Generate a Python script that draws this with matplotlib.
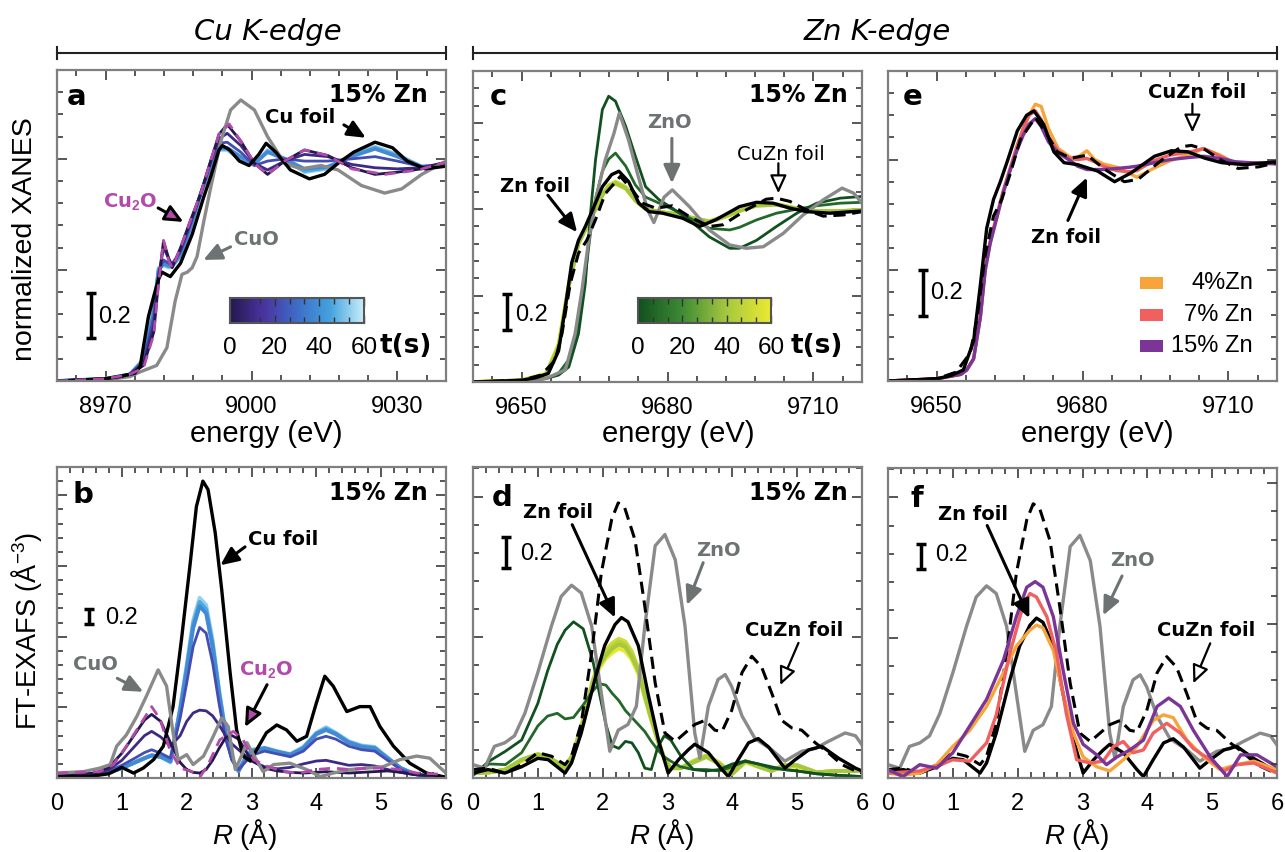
import numpy as np
import matplotlib
matplotlib.use('Agg')
import matplotlib.pyplot as plt
from matplotlib.colors import LinearSegmentedColormap
from matplotlib.lines import Line2D
from matplotlib.patches import Rectangle

plt.rcParams['font.family'] = ['Liberation Sans', 'DejaVu Sans']
plt.rcParams['mathtext.fontset'] = 'custom'
plt.rcParams['mathtext.rm'] = 'Liberation Sans'
plt.rcParams['mathtext.it'] = 'Liberation Sans:italic'
plt.rcParams['mathtext.bf'] = 'Liberation Sans:bold'
plt.rcParams['lines.solid_joinstyle'] = 'round'
plt.rcParams['lines.dash_joinstyle'] = 'round'
ANN = 'DejaVu Sans'

# ---------------- DATA ----------------
# Panel a: Cu K-edge XANES (energy eV, normalized)
cu_E_foil = [8960, 8965, 8970, 8973, 8976, 8977.1, 8978.8, 8980, 8980.9, 8981.6, 8983.3, 8985.4, 8987.8, 8990.2,
             8991.6, 8993.3, 8994, 8995.5, 8997.5, 8999.5, 9001.5, 9003, 9005, 9008, 9011.9, 9015, 9017.8, 9021,
             9025.4, 9029, 9032, 9035.7, 9040]
cu_xanes_foil = [0.0, 0.005, 0.01, 0.02, 0.035, 0.065, 0.29, 0.39, 0.46, 0.49, 0.47, 0.53, 0.66, 0.83, 0.92, 1.04,
                 1.06, 1.04, 0.99, 0.97, 1.02, 1.07, 1.03, 0.95, 0.91, 0.93, 0.98, 1.03, 1.075, 1.05, 0.99, 0.955, 0.967]
cu_E_cuo = [8960, 8970, 8975, 8977, 8980.5, 8982.6, 8984.3, 8985.7, 8986.8, 8987.8, 8988.8, 8990.2, 8991.6, 8993.7,
            8995.7, 8997.8, 9000.6, 9003.3, 9006.8, 9010.2, 9014.3, 9017.8, 9022.6, 9027.4, 9030.9, 9035, 9040]
cu_xanes_cuo = [0.0, 0.005, 0.02, 0.04, 0.07, 0.15, 0.36, 0.48, 0.49, 0.51, 0.56, 0.72, 0.87, 1.08, 1.22, 1.265,
                1.22, 1.10, 0.98, 0.955, 0.97, 0.95, 0.88, 0.846, 0.865, 0.93, 0.99]
cu_E_cu2o = [8960, 8970, 8975, 8977.8, 8979.9, 8980.9, 8981.9, 8983, 8983.7, 8985.4, 8987.4, 8989.5, 8991.6, 8993.3,
             8995.4, 8997.8, 9000.6, 9003.3, 9006.8, 9010.9, 9015.7, 9020.6, 9027.4, 9034.3, 9040]
cu_xanes_cu2o = [0.0, 0.01, 0.03, 0.06, 0.21, 0.44, 0.633, 0.54, 0.51, 0.60, 0.72, 0.84, 0.99, 1.11, 1.157, 1.08,
                 0.98, 0.93, 0.99, 1.04, 1.015, 0.955, 0.93, 0.95, 0.985]
cu_times = [0, 10, 22, 38, 46, 54]
cu_E_series = [8960, 8970, 8975, 8977.8, 8979.9, 8980.9, 8981.9, 8983, 8983.7, 8985.4, 8987.4, 8989.5, 8991.6, 8993.3,
               8995, 8997.8, 9000.6, 9003.3, 9006.8, 9010.9, 9015.7, 9020.6, 9025.4, 9030, 9035, 9040]
cu_xanes_t0 = [0.0, 0.01, 0.03, 0.07, 0.22, 0.45, 0.63, 0.55, 0.51, 0.60, 0.72, 0.84, 0.99, 1.11, 1.155, 1.08, 0.98,
               0.93, 0.99, 1.04, 1.015, 0.96, 0.93, 0.94, 0.955, 0.985]
cu_xanes_t1 = [0.0, 0.01, 0.03, 0.08, 0.25, 0.47, 0.60, 0.55, 0.52, 0.59, 0.71, 0.84, 0.99, 1.09, 1.115, 1.06, 0.98,
               0.95, 0.99, 1.02, 1.01, 0.975, 0.96, 0.955, 0.96, 0.985]
cu_xanes_t2 = [0.0, 0.01, 0.03, 0.09, 0.29, 0.49, 0.545, 0.53, 0.53, 0.58, 0.70, 0.84, 0.98, 1.07, 1.075, 1.03, 0.97,
               0.99, 1.0, 0.99, 0.99, 1.0, 1.01, 0.99, 0.965, 0.975]
cu_xanes_t3 = [0.0, 0.01, 0.03, 0.09, 0.31, 0.50, 0.53, 0.52, 0.52, 0.57, 0.69, 0.84, 0.97, 1.05, 1.05, 1.01, 0.98,
               1.03, 1.0, 0.955, 0.965, 1.01, 1.045, 1.01, 0.965, 0.97]
cu_xanes_t4 = [0.0, 0.01, 0.03, 0.095, 0.32, 0.50, 0.525, 0.515, 0.52, 0.565, 0.685, 0.84, 0.97, 1.045, 1.045, 1.0,
               0.975, 1.035, 1.0, 0.945, 0.96, 1.015, 1.05, 1.015, 0.965, 0.97]
cu_xanes_t5 = [0.0, 0.01, 0.03, 0.10, 0.33, 0.51, 0.52, 0.51, 0.515, 0.56, 0.68, 0.84, 0.965, 1.04, 1.04, 0.995, 0.97,
               1.04, 1.0, 0.94, 0.955, 1.02, 1.055, 1.02, 0.965, 0.97]

# Panel b: Cu FT-EXAFS (R in Angstrom)
cu_R_foil = [0, 0.5, 0.8, 1.0, 1.18, 1.33, 1.49, 1.64, 1.79, 1.92, 2.05, 2.15, 2.25, 2.33, 2.44, 2.54, 2.67, 2.77,
             2.87, 2.98, 3.08, 3.23, 3.39, 3.54, 3.70, 3.85, 4.0, 4.13, 4.26, 4.47, 4.67, 4.83, 4.98, 5.19, 5.44,
             5.70, 6.0]
cu_ft_foil = [0.02, 0.02, 0.06, 0.15, 0.07, 0.14, 0.26, 0.45, 1.01, 1.96, 3.0, 3.84, 4.2, 4.08, 3.47, 2.67, 1.49,
              0.68, 0.31, 0.24, 0.40, 0.64, 0.75, 0.68, 0.52, 0.59, 1.06, 1.44, 1.30, 0.94, 1.01, 1.01, 0.73, 0.45,
              0.21, 0.07, 0.01]
cu_R_cuo = [0, 0.41, 0.66, 0.82, 0.92, 1.07, 1.23, 1.38, 1.56, 1.69, 1.79, 1.87, 2.0, 2.1, 2.26, 2.41, 2.54, 2.64,
            2.75, 2.82, 2.93, 3.03, 3.18, 3.34, 3.59, 3.85, 4.06, 4.26, 4.52, 4.78, 5.03, 5.29, 5.55, 5.75, 6.0]
cu_ft_cuo = [0.07, 0.09, 0.14, 0.19, 0.45, 0.61, 0.87, 1.16, 1.53, 1.30, 0.64, 0.26, 0.33, 0.19, 0.31, 0.59, 0.85,
             0.73, 0.12, 0.26, 0.50, 0.33, 0.09, 0.19, 0.21, 0.12, 0.02, 0.07, 0.12, 0.14, 0.16, 0.26, 0.31, 0.28, 0.07]
cu_R_cu2o = [0, 0.66, 0.87, 1.07, 1.23, 1.46, 1.59, 1.74, 1.90, 2.08, 2.21, 2.33, 2.51, 2.72, 2.87, 3.03, 3.23, 3.49,
             3.75, 4.0, 4.26, 4.52, 4.78, 5.03, 5.29, 5.55, 6.0]
cu_ft_cu2o = [0.07, 0.09, 0.19, 0.45, 0.68, 1.01, 0.83, 0.40, 0.14, 0.09, 0.02, 0.19, 0.54, 0.66, 0.54, 0.26, 0.17,
              0.09, 0.07, 0.12, 0.14, 0.12, 0.14, 0.14, 0.12, 0.07, 0.05]
cu_R_series = [0, 0.3, 0.6, 0.8, 1.0, 1.2, 1.35, 1.46, 1.6, 1.75, 1.9, 2.0, 2.1, 2.2, 2.3, 2.4, 2.5, 2.6, 2.7, 2.8,
               2.9, 3.0, 3.2, 3.4, 3.6, 3.8, 4.0, 4.15, 4.3, 4.5, 4.7, 4.9, 5.1, 5.3, 5.5, 5.75, 6.0]
cu_ft_t0 = [0.05, 0.05, 0.07, 0.15, 0.35, 0.62, 0.82, 0.90, 0.80, 0.50, 0.22, 0.12, 0.08, 0.07, 0.12, 0.25, 0.42, 0.57,
            0.60, 0.55, 0.40, 0.25, 0.14, 0.10, 0.08, 0.07, 0.08, 0.09, 0.08, 0.07, 0.08, 0.09, 0.10, 0.08, 0.05, 0.03,
            0.02]
cu_ft_t1 = [0.05, 0.05, 0.07, 0.12, 0.25, 0.45, 0.60, 0.66, 0.58, 0.45, 0.60, 0.80, 0.92, 0.96, 0.95, 0.88, 0.75, 0.60,
            0.48, 0.40, 0.32, 0.24, 0.16, 0.13, 0.15, 0.20, 0.24, 0.25, 0.22, 0.18, 0.19, 0.17, 0.12, 0.08, 0.05, 0.03,
            0.02]
cu_ft_t2 = [0.04, 0.04, 0.06, 0.10, 0.18, 0.28, 0.36, 0.40, 0.35, 0.28, 0.85, 1.34, 1.86, 2.13, 2.05, 1.63, 1.05, 0.55,
            0.25, 0.12, 0.22, 0.32, 0.38, 0.34, 0.30, 0.38, 0.55, 0.59, 0.55, 0.45, 0.40, 0.38, 0.25, 0.12, 0.05, 0.03,
            0.02]
cu_ft_t3 = [0.03, 0.03, 0.05, 0.08, 0.14, 0.22, 0.28, 0.32, 0.30, 0.24, 0.95, 1.52, 2.12, 2.43, 2.33, 1.86, 1.19, 0.62,
            0.27, 0.10, 0.26, 0.38, 0.42, 0.37, 0.33, 0.42, 0.62, 0.68, 0.62, 0.50, 0.44, 0.42, 0.28, 0.14, 0.06, 0.02,
            0.01]
cu_ft_t4 = [0.03, 0.03, 0.05, 0.08, 0.14, 0.22, 0.28, 0.32, 0.30, 0.23, 0.98, 1.56, 2.18, 2.49, 2.39, 1.90, 1.22, 0.64,
            0.27, 0.10, 0.27, 0.39, 0.42, 0.37, 0.33, 0.43, 0.63, 0.70, 0.63, 0.51, 0.45, 0.43, 0.28, 0.14, 0.06, 0.02,
            0.01]
cu_ft_t5 = [0.03, 0.03, 0.05, 0.08, 0.14, 0.22, 0.28, 0.32, 0.30, 0.22, 1.00, 1.60, 2.23, 2.55, 2.45, 1.95, 1.25, 0.65,
            0.28, 0.10, 0.28, 0.40, 0.43, 0.38, 0.34, 0.44, 0.64, 0.72, 0.64, 0.52, 0.46, 0.44, 0.29, 0.14, 0.06, 0.02,
            0.01]

# Panel c / e: Zn K-edge XANES references
zn_E_foil = [9640, 9650, 9653, 9655.5, 9657.6, 9659, 9660.3, 9661.7, 9663.1, 9664.5, 9666.6, 9668.5, 9670, 9672,
             9674.1, 9676.2, 9679, 9683.1, 9686.6, 9690, 9694.8, 9698.3, 9701.7, 9705.2, 9708.6, 9713.4, 9720]
zn_xanes_foil = [0.0, 0.01, 0.025, 0.05, 0.18, 0.435, 0.69, 0.82, 0.90, 0.99, 1.13, 1.20, 1.22, 1.16, 1.035, 0.986,
                 0.977, 0.948, 0.90, 0.94, 1.015, 1.04, 1.035, 1.006, 0.986, 0.977, 0.99]
zn_E_cuzn = [9640, 9650, 9654, 9656.9, 9658.3, 9660, 9661.7, 9663.4, 9665.2, 9667.2, 9670.3, 9672.8, 9674.8, 9677.6,
             9681, 9684.5, 9688.6, 9691.4, 9696.2, 9700.3, 9702.4, 9705.2, 9708.6, 9712, 9716.2, 9720]
zn_xanes_cuzn = [0.0, 0.01, 0.04, 0.126, 0.28, 0.57, 0.745, 0.82, 0.94, 1.09, 1.19, 1.11, 1.035, 1.006, 1.02, 0.957,
                 0.90, 0.91, 0.996, 1.058, 1.064, 1.045, 0.996, 0.96, 0.967, 0.986]
zn_E_zno = [9640, 9650, 9655, 9659, 9661, 9662.4, 9663.8, 9665.2, 9667.2, 9669, 9670.1, 9672, 9673.8, 9675.9, 9677.2,
            9679.3, 9681, 9684.5, 9688.6, 9692.8, 9696.2, 9699.7, 9703.8, 9707.9, 9712, 9715.9, 9718.3, 9720]
zn_xanes_zno = [0.0, 0.005, 0.02, 0.07, 0.28, 0.53, 0.82, 1.054, 1.286, 1.44, 1.557, 1.40, 1.209, 0.996, 0.923, 1.07,
                1.112, 1.015, 0.88, 0.793, 0.774, 0.783, 0.86, 0.967, 1.054, 1.122, 1.093, 1.035]
zn_times = [0, 8, 40, 46, 52, 58]
zn_E_series = [9640, 9650, 9655, 9657.6, 9659.7, 9661.7, 9663.1, 9664.1, 9665.2, 9666.6, 9667.9, 9669.3, 9671.4,
               9673.4, 9675.5, 9678.3, 9681, 9684.5, 9688.6, 9692.8, 9694.8, 9698.3, 9702.4, 9706.6, 9710.7, 9715.5,
               9720]
zn_xanes_t0 = [0.0, 0.005, 0.02, 0.04, 0.087, 0.28, 0.57, 0.957, 1.286, 1.576, 1.654, 1.625, 1.48, 1.306, 1.13, 1.054,
               1.006, 0.938, 0.84, 0.774, 0.774, 0.82, 0.90, 0.977, 1.035, 1.064, 1.074]
zn_xanes_t1 = [0.0, 0.005, 0.02, 0.05, 0.13, 0.33, 0.62, 0.85, 1.06, 1.22, 1.29, 1.325, 1.25, 1.14, 1.07, 1.035, 1.0,
               0.95, 0.89, 0.88, 0.895, 0.938, 0.977, 1.0, 1.02, 1.035, 1.04]
zn_xanes_t2 = [0.0, 0.01, 0.04, 0.20, 0.55, 0.80, 0.88, 0.94, 1.0, 1.08, 1.13, 1.15, 1.12, 1.05, 1.0, 0.985, 0.975,
               0.955, 0.93, 0.97, 0.99, 1.02, 1.025, 1.005, 0.99, 0.99, 0.995]
zn_xanes_t3 = [0.0, 0.01, 0.045, 0.21, 0.56, 0.80, 0.88, 0.94, 1.0, 1.08, 1.135, 1.155, 1.125, 1.05, 1.0, 0.985, 0.975,
               0.95, 0.925, 0.965, 0.99, 1.025, 1.03, 1.005, 0.99, 0.99, 0.995]
zn_xanes_t4 = [0.0, 0.01, 0.045, 0.21, 0.56, 0.81, 0.89, 0.945, 1.005, 1.085, 1.14, 1.16, 1.13, 1.055, 1.0, 0.985,
               0.975, 0.95, 0.925, 0.965, 0.99, 1.025, 1.03, 1.005, 0.99, 0.99, 0.995]
zn_xanes_t5 = [0.0, 0.01, 0.05, 0.22, 0.57, 0.81, 0.89, 0.945, 1.0, 1.08, 1.13, 1.145, 1.12, 1.05, 1.0, 0.985, 0.975,
               0.955, 0.93, 0.97, 0.99, 1.02, 1.025, 1.005, 0.99, 0.99, 0.995]

# Panel e: composition series
comp_labels = ['4%Zn', '7% Zn', '15% Zn']
comp_E = [9640, 9650, 9655, 9656.2, 9657.6, 9659, 9660, 9661, 9662.4, 9663.7, 9665.1, 9666.5, 9667.8, 9669, 9670.3,
          9671.5, 9673, 9675, 9677.5, 9679, 9680.9, 9682.5, 9684.3, 9687.1, 9689.5, 9691.2, 9694.6, 9698, 9702.2,
          9704.9, 9708.3, 9711.5, 9715, 9720]
xanes_4 = [0.0, 0.01, 0.03, 0.05, 0.10, 0.29, 0.50, 0.62, 0.74, 0.85, 0.95, 1.05, 1.14, 1.20, 1.25, 1.24, 1.14, 1.05,
           1.01, 1.01, 1.04, 1.0, 0.98, 0.965, 0.94, 0.92, 0.96, 0.995, 1.025, 1.05, 1.02, 0.98, 0.985, 0.985]
xanes_7 = [0.0, 0.01, 0.03, 0.05, 0.10, 0.29, 0.52, 0.63, 0.75, 0.86, 0.96, 1.06, 1.14, 1.20, 1.22, 1.18, 1.10, 1.04,
           1.005, 1.0, 1.005, 0.99, 0.97, 0.95, 0.945, 0.95, 0.995, 1.02, 1.035, 1.05, 1.015, 0.985, 0.985, 0.985]
xanes_15 = [0.0, 0.01, 0.03, 0.05, 0.10, 0.29, 0.50, 0.62, 0.74, 0.85, 0.95, 1.04, 1.11, 1.16, 1.185, 1.15, 1.08, 1.03,
            0.995, 0.97, 0.955, 0.955, 0.955, 0.96, 0.965, 0.97, 0.985, 1.0, 1.01, 1.015, 1.005, 0.99, 0.985, 0.98]

# Panel d / f: Zn FT-EXAFS references
zn_R_foil = [0, 0.23, 0.49, 0.75, 1.0, 1.16, 1.42, 1.52, 1.67, 1.88, 2.03, 2.19, 2.29, 2.39, 2.55, 2.70, 2.86, 3.01,
             3.17, 3.32, 3.42, 3.63, 3.84, 3.94, 4.09, 4.25, 4.40, 4.56, 4.81, 4.97, 5.18, 5.38, 5.64, 5.90, 6.0]
zn_ft_foil = [0.035, 0.06, 0.035, 0.08, 0.14, 0.13, 0.035, 0.107, 0.32, 0.70, 0.94, 1.09, 1.14, 1.11, 0.94, 0.60,
              0.27, 0.035, 0.13, 0.20, 0.24, 0.18, 0.06, 0.01, 0.13, 0.25, 0.28, 0.22, 0.07, 0.13, 0.20, 0.225, 0.14,
              0.07, 0.05]
zn_R_cuzn = [0, 0.23, 0.49, 0.75, 1.0, 1.21, 1.42, 1.52, 1.67, 1.83, 1.98, 2.14, 2.24, 2.34, 2.50, 2.65, 2.81, 2.96,
             3.12, 3.27, 3.42, 3.58, 3.73, 3.84, 3.99, 4.15, 4.30, 4.45, 4.61, 4.76, 4.92, 5.07, 5.28, 5.48, 5.69,
             5.90, 6.0]
zn_ft_cuzn = [0.06, 0.07, 0.035, 0.095, 0.18, 0.155, 0.095, 0.155, 0.39, 0.89, 1.46, 1.84, 1.955, 1.92, 1.69, 1.22,
              0.675, 0.32, 0.26, 0.32, 0.38, 0.41, 0.34, 0.33, 0.48, 0.75, 0.865, 0.79, 0.60, 0.41, 0.355, 0.34, 0.25,
              0.18, 0.095, 0.05, 0.035]
zn_R_zno = [0, 0.18, 0.33, 0.49, 0.64, 0.80, 1.0, 1.21, 1.36, 1.52, 1.67, 1.83, 1.98, 2.11, 2.24, 2.39, 2.52, 2.65,
            2.81, 2.96, 3.12, 3.27, 3.42, 3.50, 3.63, 3.78, 3.89, 3.99, 4.15, 4.35, 4.61, 4.81, 5.07, 5.28, 5.48, 5.74,
            5.90, 6.0]
zn_ft_zno = [0.095, 0.07, 0.225, 0.25, 0.30, 0.46, 0.75, 1.08, 1.29, 1.37, 1.315, 1.08, 0.60, 0.19, 0.34, 0.38, 0.51,
             1.08, 1.65, 1.73, 1.55, 1.08, 0.32, 0.14, 0.51, 0.70, 0.735, 0.65, 0.44, 0.28, 0.20, 0.12, 0.19, 0.21,
             0.26, 0.32, 0.30, 0.235]
zn_R_series = [0, 0.25, 0.5, 0.75, 1.0, 1.15, 1.3, 1.42, 1.55, 1.7, 1.85, 1.95, 2.05, 2.15, 2.25, 2.35, 2.45, 2.55,
               2.65, 2.75, 2.85, 2.95, 3.05, 3.2, 3.4, 3.6, 3.8, 4.0, 4.2, 4.4, 4.6, 4.8, 5.0, 5.3, 5.6, 6.0]
zn_ft_t0 = [0.02, 0.12, 0.19, 0.27, 0.53, 0.76, 0.95, 1.05, 1.11, 1.06, 0.83, 0.60, 0.38, 0.23, 0.21, 0.26, 0.25, 0.18,
            0.07, 0.06, 0.22, 0.30, 0.27, 0.16, 0.06, 0.05, 0.06, 0.10, 0.12, 0.10, 0.08, 0.06, 0.05, 0.03, 0.02, 0.01]
zn_ft_t1 = [0.02, 0.10, 0.095, 0.18, 0.37, 0.44, 0.46, 0.42, 0.43, 0.52, 0.62, 0.67, 0.66, 0.60, 0.55, 0.48, 0.43,
            0.38, 0.33, 0.26, 0.20, 0.15, 0.12, 0.08, 0.06, 0.06, 0.05, 0.08, 0.12, 0.10, 0.07, 0.06, 0.05, 0.03, 0.02,
            0.01]
zn_ft_t2 = [0.035, 0.04, 0.06, 0.13, 0.165, 0.15, 0.11, 0.07, 0.17, 0.40, 0.68, 0.80, 0.87, 0.92, 0.95, 0.93, 0.86,
            0.76, 0.58, 0.42, 0.27, 0.14, 0.07, 0.07, 0.11, 0.15, 0.10, 0.03, 0.12, 0.08, 0.05, 0.09, 0.09, 0.04, 0.05,
            0.05]
zn_ft_t3 = [0.035, 0.04, 0.06, 0.13, 0.17, 0.15, 0.11, 0.07, 0.18, 0.41, 0.69, 0.82, 0.89, 0.94, 0.97, 0.95, 0.88,
            0.77, 0.59, 0.42, 0.27, 0.14, 0.07, 0.07, 0.12, 0.16, 0.10, 0.03, 0.12, 0.09, 0.05, 0.09, 0.09, 0.04, 0.05,
            0.05]
zn_ft_t4 = [0.035, 0.04, 0.06, 0.13, 0.17, 0.15, 0.11, 0.07, 0.18, 0.42, 0.70, 0.83, 0.91, 0.96, 0.99, 0.97, 0.90,
            0.78, 0.60, 0.43, 0.28, 0.14, 0.07, 0.07, 0.12, 0.16, 0.11, 0.03, 0.12, 0.09, 0.05, 0.09, 0.09, 0.04, 0.05,
            0.05]
zn_ft_t5 = [0.035, 0.04, 0.06, 0.12, 0.16, 0.14, 0.10, 0.07, 0.16, 0.39, 0.66, 0.78, 0.85, 0.89, 0.92, 0.90, 0.84,
            0.74, 0.57, 0.41, 0.26, 0.13, 0.07, 0.07, 0.11, 0.15, 0.10, 0.03, 0.11, 0.08, 0.05, 0.08, 0.08, 0.04, 0.05,
            0.05]

# Panel f: composition series
ft4_R = [0, 0.23, 0.49, 0.75, 1.0, 1.26, 1.52, 1.78, 1.98, 2.19, 2.29, 2.39, 2.55, 2.70, 2.86, 3.01, 3.22, 3.42, 3.63,
         3.84, 4.09, 4.25, 4.40, 4.61, 4.87, 5.12, 5.38, 5.64, 6.0]
ft4 = [0.035, 0.02, 0.035, 0.095, 0.225, 0.34, 0.51, 0.75, 0.94, 1.055, 1.09, 1.07, 0.91, 0.60, 0.32, 0.15, 0.08,
       0.05, 0.13, 0.225, 0.41, 0.45, 0.43, 0.27, 0.15, 0.06, 0.095, 0.12, 0.06]
ft7_R = [0, 0.49, 0.75, 1.0, 1.26, 1.52, 1.67, 1.88, 2.09, 2.19, 2.29, 2.45, 2.60, 2.75, 2.91, 3.12, 3.32, 3.48, 3.63,
         3.78, 3.94, 4.09, 4.30, 4.51, 4.71, 4.97, 5.18, 5.38, 5.64, 6.0]
ft7 = [0.035, 0.05, 0.085, 0.13, 0.12, 0.25, 0.45, 0.89, 1.24, 1.315, 1.29, 1.15, 0.89, 0.46, 0.13, 0.107, 0.12,
       0.225, 0.26, 0.18, 0.20, 0.32, 0.39, 0.32, 0.21, 0.13, 0.05, 0.095, 0.107, 0.035]
ft15_R = [0, 0.23, 0.49, 0.75, 1.0, 1.26, 1.52, 1.78, 1.98, 2.14, 2.27, 2.39, 2.55, 2.70, 2.86, 3.01, 3.22, 3.37,
          3.53, 3.73, 3.94, 4.15, 4.33, 4.51, 4.71, 4.97, 5.23, 5.44, 5.69, 6.0]
ft15 = [0.06, 0.01, 0.095, 0.07, 0.18, 0.37, 0.56, 0.84, 1.15, 1.36, 1.40, 1.36, 1.15, 0.77, 0.39, 0.24, 0.165, 0.095,
        0.15, 0.20, 0.27, 0.51, 0.57, 0.51, 0.34, 0.15, 0.01, 0.165, 0.165, 0.08]

# ---------------- STYLE ----------------
C_BLACK = 'black'
C_GRAY = '#8a8a8a'
C_GRAYTXT = '#6d7272'
C_MAG = '#b24aa9'
comp_colors = ['#f7a53b', '#f0605e', '#7a3597']
cu_cmap = LinearSegmentedColormap.from_list('cu', ['#24184f', '#4a34a0', '#3e6cc8', '#45a3de', '#c9edfb'])
zn_cmap = LinearSegmentedColormap.from_list('zn', ['#11501f', '#3f8c35', '#a6c83f', '#ecea31'])

W, H = 1285, 852
fig = plt.figure(figsize=(W / 100, H / 100), dpi=100)


def px_axes(l, t, r, b):
    return fig.add_axes([l / W, 1 - b / H, (r - l) / W, (b - t) / H])


def style(ax, xlim, ylim, xmaj, xmin, ymaj, ymin, right=True):
    ax.set_xlim(xlim)
    ax.set_ylim(ylim)
    ax.set_xticks(xmaj)
    ax.set_xticks(xmin, minor=True)
    ax.set_yticks(ymaj)
    ax.set_yticks(ymin, minor=True)
    ax.set_yticklabels([])
    ax.tick_params(which='both', direction='in', top=True, right=right, color='#3a3a3a', width=1.2,
                   labelsize=17, pad=10.5)
    ax.tick_params(which='major', length=7)
    ax.tick_params(which='minor', length=4)
    for s in ax.spines.values():
        s.set_color('#7f7f7f')
        s.set_linewidth(1.6)


def scalebar(ax, x, y0, y1, tx, ty):
    ax.errorbar([x], [(y0 + y1) / 2], yerr=[(y1 - y0) / 2], color='black', capsize=3.5, capthick=2.5,
                elinewidth=2.5, fmt='none')
    ax.text(tx, ty, '0.2', fontsize=17, ha='left', va='center')


def arrow(ax, p0, p1, ec='black', fc=None, lw=2.2):
    ax.annotate('', xy=p1, xytext=p0,
                arrowprops=dict(arrowstyle='-|>,head_length=0.55,head_width=0.25', lw=lw, ec=ec,
                                fc=fc if fc else ec, shrinkA=0, shrinkB=0, mutation_scale=20))


def lab(ax, x, y, s, color='black', bold=True, size=14):
    ax.text(x, y, s, color=color, fontsize=size, fontweight='bold' if bold else 'normal', ha='center', va='center',
            family=ANN)


def corner(ax, letter, lx, ly, zn=None, zy=None):
    ax.text(lx, ly, letter, transform=ax.transAxes, fontsize=21, fontweight='bold', ha='left', va='center',
            family=ANN)
    if zn:
        ax.text(zn, zy, '15% Zn', transform=ax.transAxes, fontsize=17, fontweight='bold', ha='right', va='center',
                family=ANN)


def colorbar(rect, cmap, tx):
    cax = px_axes(*rect)
    grad = np.linspace(0, 1, 256)[None, :]
    cax.imshow(grad, aspect='auto', cmap=cmap, extent=[0, 60, 0, 1])
    cax.set_xlim(0, 60)
    cax.set_ylim(0, 1)
    cax.set_xticks([0, 20, 40, 60])
    cax.set_xticks(np.arange(0, 60.01, 60 / 9), minor=True)
    cax.set_yticks([])
    cax.tick_params(axis='x', which='both', direction='in', top=True, bottom=True, color='#333333', width=1,
                    labelsize=17.5, pad=10)
    cax.tick_params(axis='x', which='major', length=6)
    cax.tick_params(axis='x', which='minor', length=4)
    for s in cax.spines.values():
        s.set_color('#555555')
        s.set_linewidth(1.5)
    fig.text(tx / W, 1 - 346 / H, 't(s)', fontsize=19, fontweight='bold', ha='center', va='center', family=ANN)


E_cu_maj = [8970, 9000, 9030]
E_cu_min = np.arange(8964, 9040, 6)
E_zn_maj = [9650, 9680, 9710]
E_zn_min = np.arange(9644, 9720, 6)
R_maj = np.arange(0, 7)
R_min = np.arange(0, 6.01, 0.2)

# ---------------- PANEL a ----------------
ax = px_axes(57, 70, 446, 381)
style(ax, (8960, 9040), (0, 1.40), E_cu_maj, E_cu_min, [0, 0.5, 1.0], np.arange(0, 1.41, 0.1))
cu_xanes_series = [cu_xanes_t5, cu_xanes_t4, cu_xanes_t3, cu_xanes_t2, cu_xanes_t1, cu_xanes_t0]
for t, y in zip(cu_times[::-1], cu_xanes_series):
    ax.plot(cu_E_series, y, color=cu_cmap(t / 60), lw=2.6 if t > 30 else 2.0)
ax.plot(cu_E_cuo, cu_xanes_cuo, color=C_GRAY, lw=2.4)
ax.plot(cu_E_foil, cu_xanes_foil, color=C_BLACK, lw=2.4)
ax.plot(cu_E_cu2o, cu_xanes_cu2o, color=C_MAG, lw=2.0, dashes=(4, 2.5))
corner(ax, 'a', 0.026, 0.913, 0.954, 0.92)
lab(ax, 9010.1, 1.185, 'Cu foil')
arrow(ax, (9019.0, 1.153), (9023.5, 1.095))
lab(ax, 8975.1, 0.806, 'Cu$_\\mathbf{2}$O', color=C_MAG)
arrow(ax, (8980.8, 0.779), (8986.0, 0.716), ec='black', fc=C_MAG)
lab(ax, 9001.0, 0.635, 'CuO', color=C_GRAYTXT)
arrow(ax, (8995.7, 0.604), (8990.1, 0.545), ec=C_GRAYTXT)
scalebar(ax, 8967.0, 0.195, 0.395, 8968.5, 0.29)

# ---------------- PANEL c ----------------
ax = px_axes(473, 71, 862, 382)
style(ax, (9640, 9720), (0, 1.80), E_zn_maj, E_zn_min, [0, 0.5, 1.0, 1.5], np.arange(0, 1.81, 0.1))
zn_xanes_series = [zn_xanes_t5, zn_xanes_t4, zn_xanes_t3, zn_xanes_t2, zn_xanes_t1, zn_xanes_t0]
for t, y in zip(zn_times[::-1], zn_xanes_series):
    ax.plot(zn_E_series, y, color=zn_cmap(t / 60), lw=2.6 if t > 30 else 2.0)
ax.plot(zn_E_zno, zn_xanes_zno, color=C_GRAY, lw=2.4)
ax.plot(zn_E_foil, zn_xanes_foil, color=C_BLACK, lw=2.4)
ax.plot(zn_E_cuzn, zn_xanes_cuzn, color=C_BLACK, lw=2.2, dashes=(4, 2.2))
corner(ax, 'c', 0.044, 0.916, 0.964, 0.923)
lab(ax, 9652.8, 1.133, 'Zn foil')
arrow(ax, (9655.4, 1.081), (9661.4, 0.867))
lab(ax, 9680.3, 1.503, 'ZnO', color=C_GRAYTXT)
arrow(ax, (9680.9, 1.41), (9680.9, 1.15), ec=C_GRAYTXT)
lab(ax, 9703.4, 1.318, 'CuZn foil', bold=False)
arrow(ax, (9702.8, 1.266), (9702.8, 1.092), ec='black', fc='white', lw=1.6)
scalebar(ax, 9647.0, 0.30, 0.51, 9648.7, 0.39)

# ---------------- PANEL e ----------------
ax = px_axes(888, 71, 1277, 381)
style(ax, (9640, 9720), (0, 1.40), E_zn_maj, E_zn_min, [0, 0.5, 1.0], np.arange(0, 1.41, 0.1))
for y, c in zip([xanes_4, xanes_7, xanes_15], comp_colors):
    ax.plot(comp_E, y, color=c, lw=2.4)
ax.plot(zn_E_foil, zn_xanes_foil, color=C_BLACK, lw=2.4)
ax.plot(zn_E_cuzn, zn_xanes_cuzn, color=C_BLACK, lw=2.2, dashes=(4, 2.2))
corner(ax, 'e', 0.039, 0.916)
lab(ax, 9703.6, 1.302, 'CuZn foil')
arrow(ax, (9702.6, 1.252), (9702.6, 1.122), ec='black', fc='white', lw=1.6)
lab(ax, 9676.6, 0.649, 'Zn foil')
arrow(ax, (9677.0, 0.725), (9680.9, 0.919))
scalebar(ax, 9647.2, 0.293, 0.50, 9648.6, 0.396)
for i, (s, c) in enumerate(zip(comp_labels, comp_colors)):
    yc = [0.316, 0.213, 0.113][i]
    ax.add_patch(Rectangle((0.648, yc - 0.019), 0.059, 0.039, transform=ax.transAxes, color=c, lw=0))
    ax.text(0.938, yc, s, transform=ax.transAxes, fontsize=17, ha='right', va='center')

# ---------------- PANEL b ----------------
ax = px_axes(57, 467, 446, 778)
style(ax, (0, 6), (0, 4.40), R_maj, R_min, [0, 1, 2, 3, 4], np.arange(0, 4.41, 0.2))
cu_ft_series = [cu_ft_t5, cu_ft_t4, cu_ft_t3, cu_ft_t2, cu_ft_t1, cu_ft_t0]
for t, y in zip(cu_times[::-1], cu_ft_series):
    ax.plot(cu_R_series, y, color=cu_cmap(t / 60), lw=2.8 if t > 30 else 2.0)
ax.plot(cu_R_foil, cu_ft_foil, color=C_BLACK, lw=2.4)
ax.plot(cu_R_cuo, cu_ft_cuo, color=C_GRAY, lw=2.4)
ax.plot(cu_R_cu2o, cu_ft_cu2o, color=C_MAG, lw=2.0, dashes=(4, 2.5))
corner(ax, 'b', 0.041, 0.91, 0.954, 0.916)
lab(ax, 3.49, 3.37, 'Cu foil')
arrow(ax, (2.90, 3.27), (2.52, 3.01))
lab(ax, 0.59, 1.60, 'CuO', color=C_GRAYTXT)
arrow(ax, (0.93, 1.41), (1.33, 1.22), ec=C_GRAYTXT)
lab(ax, 3.23, 1.53, 'Cu$_\\mathbf{2}$O', color=C_MAG)
arrow(ax, (3.24, 1.32), (2.90, 0.72), ec='black', fc=C_MAG)
scalebar(ax, 0.49, 2.18, 2.39, 0.74, 2.26)

# ---------------- PANEL d ----------------
ax = px_axes(473, 467, 862, 778)
style(ax, (0, 6), (0, 2.21), R_maj, R_min, [0, 1, 2], np.arange(0, 2.21, 0.2))
zn_ft_series = [zn_ft_t5, zn_ft_t4, zn_ft_t3, zn_ft_t2, zn_ft_t1, zn_ft_t0]
for t, y in zip(zn_times[::-1], zn_ft_series):
    ax.plot(zn_R_series, y, color=zn_cmap(t / 60), lw=2.8 if t > 30 else 2.0)
ax.plot(zn_R_zno, zn_ft_zno, color=C_GRAY, lw=2.4)
ax.plot(zn_R_foil, zn_ft_foil, color=C_BLACK, lw=2.4)
ax.plot(zn_R_cuzn, zn_ft_cuzn, color=C_BLACK, lw=2.2, dashes=(4, 2.2))
corner(ax, 'd', 0.049, 0.90, 0.964, 0.916)
lab(ax, 1.31, 1.89, 'Zn foil')
arrow(ax, (1.53, 1.80), (2.19, 1.14))
lab(ax, 3.78, 1.62, 'ZnO', color=C_GRAYTXT)
arrow(ax, (3.55, 1.53), (3.30, 1.23), ec=C_GRAYTXT)
lab(ax, 4.95, 1.05, 'CuZn foil')
arrow(ax, (5.02, 0.96), (4.74, 0.66), ec='black', fc='white', lw=1.6)
scalebar(ax, 0.51, 1.49, 1.71, 0.73, 1.59)

# ---------------- PANEL f ----------------
ax = px_axes(888, 468, 1277, 778)
style(ax, (0, 6), (0, 2.21), R_maj, R_min, [0, 1, 2], np.arange(0, 2.21, 0.2), right=False)
ax2 = ax.twinx()
ax2.set_ylim(0, 2.21)
ax2.set_yticks([1.1, 2.1])
ax2.set_yticks(np.arange(0.1, 2.21, 0.2), minor=True)
ax2.set_yticklabels([])
ax2.tick_params(which='both', direction='in', color='#3a3a3a', width=1.2)
ax2.tick_params(which='major', length=7)
ax2.tick_params(which='minor', length=4)
for s in ax2.spines.values():
    s.set_visible(False)
ax.plot(zn_R_zno, zn_ft_zno, color=C_GRAY, lw=2.4)
ax.plot(zn_R_foil, zn_ft_foil, color=C_BLACK, lw=2.4)
ax.plot(zn_R_cuzn, zn_ft_cuzn, color=C_BLACK, lw=2.2, dashes=(4, 2.2))
for (rr, y), c in zip([(ft4_R, ft4), (ft7_R, ft7), (ft15_R, ft15)], comp_colors):
    ax.plot(rr, y, color=c, lw=2.4)
corner(ax, 'f', 0.057, 0.90)
lab(ax, 1.31, 1.88, 'Zn foil')
arrow(ax, (1.53, 1.80), (2.18, 1.14))
lab(ax, 3.77, 1.55, 'ZnO', color=C_GRAYTXT)
arrow(ax, (3.61, 1.44), (3.32, 1.16), ec=C_GRAYTXT)
lab(ax, 4.91, 1.05, 'CuZn foil')
arrow(ax, (4.97, 0.96), (4.71, 0.675), ec='black', fc='white', lw=1.6)
scalebar(ax, 0.51, 1.49, 1.67, 0.73, 1.59)

# ---------------- colorbars ----------------
colorbar((230, 298, 364, 323), cu_cmap, 406)
colorbar((638, 298, 771, 323), zn_cmap, 817)


# ---------------- figure texts ----------------
def bracket(x0, x1, y, label, xc):
    fig.add_artist(Line2D([x0 / W, x1 / W], [1 - y / H] * 2, color='#222222', lw=1.5))
    for x in (x0, x1):
        fig.add_artist(Line2D([x / W] * 2, [1 - (y - 6) / H, 1 - (y + 6) / H], color='#222222', lw=1.5))
    fig.text(xc / W, 1 - 32 / H, label, ha='center', va='center', fontsize=21, style='italic', family=ANN)


bracket(57, 446, 53, 'Cu K-edge', 268)
bracket(473, 1277, 53, 'Zn K-edge', 877)

fig.text(25 / W, 1 - 239 / H, 'normalized XANES', rotation=90, ha='center', va='center', fontsize=20.5)
fig.text(27 / W, 1 - 631 / H, 'FT-EXAFS (Å$^{-3}$)', rotation=90, ha='center', va='center', fontsize=19.5)
for xc in (266, 678, 1097):
    fig.text(xc / W, 1 - 434 / H, 'energy (eV)', ha='center', va='center', fontsize=21)
for xc in (245, 662, 1077):
    fig.text(xc / W, 1 - 835 / H, '$R$ (Å)', ha='center', va='center', fontsize=20)

fig.savefig('out.png', dpi=100)
